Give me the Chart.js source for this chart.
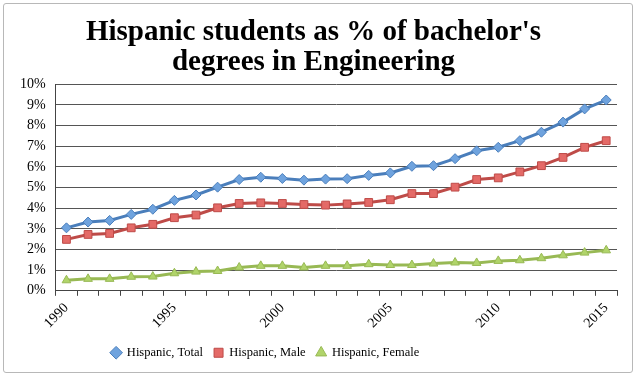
<!DOCTYPE html>
<html><head><meta charset="utf-8">
<script src="https://cdn.jsdelivr.net/npm/chart.js@4"></script>
<style>
html,body{margin:0;padding:0;background:#fff;}
#box{position:absolute;left:3px;top:3px;width:628px;height:368px;border:1px solid #b8b8b8;border-radius:3px;}
#wrap{position:absolute;left:0;top:0;width:628px;height:368px;}
</style></head><body>
<div id="box"><div id="wrap"><canvas id="c"></canvas></div></div>
<script>
const years = ['1990','1991','1992','1993','1994','1995','1996','1997','1998','1999','2000','2001','2002','2003','2004','2005','2006','2007','2008','2009','2010','2011','2012','2013','2014','2015'];
const hispanicTotal = [3.05,3.33,3.41,3.70,3.95,4.38,4.64,5.02,5.39,5.50,5.44,5.36,5.41,5.43,5.59,5.71,6.03,6.06,6.40,6.78,6.95,7.27,7.68,8.17,8.81,9.24];
const hispanicMale = [2.49,2.73,2.78,3.05,3.22,3.54,3.67,4.02,4.23,4.26,4.23,4.18,4.15,4.21,4.28,4.41,4.71,4.71,5.02,5.39,5.47,5.76,6.06,6.46,6.95,7.27];
const hispanicFemale = [0.51,0.58,0.58,0.68,0.69,0.85,0.93,0.96,1.13,1.21,1.21,1.13,1.21,1.21,1.29,1.25,1.25,1.32,1.37,1.35,1.45,1.48,1.58,1.72,1.85,1.96];
const labeledYears = ['1990','1995','2000','2005','2010','2015'];
const titleLines = ["Hispanic students as % of bachelor's", "degrees in Engineering"];

const serif = "'Liberation Serif', 'DejaVu Serif', serif";
const shiftLegend = {
  id: 'shiftLegend',
  afterLayout(chart) {
    const lg = chart.legend;
    if (lg) { lg.left -= 48; lg.right -= 48; }
  }
};

new Chart(document.getElementById('c'), {
  type: 'line',
  data: {
    labels: years,
    datasets: [
      {label: 'Hispanic, Total', data: hispanicTotal, borderColor: '#4A7EBB', backgroundColor: '#6FA3DE',
       pointBackgroundColor: '#6FA3DE', pointBorderColor: '#4A7EBB', pointBorderWidth: 1,
       pointStyle: 'rectRot', pointRadius: 5, borderWidth: 3, tension: 0},
      {label: 'Hispanic, Male', data: hispanicMale, borderColor: '#BE4B48', backgroundColor: '#E46A67',
       pointBackgroundColor: '#E46A67', pointBorderColor: '#BE4B48', pointBorderWidth: 1,
       pointStyle: 'rect', pointRadius: 5.5, borderWidth: 3, tension: 0},
      {label: 'Hispanic, Female', data: hispanicFemale, borderColor: '#98B954', backgroundColor: '#B0D46A',
       pointBackgroundColor: '#B0D46A', pointBorderColor: '#98B954', pointBorderWidth: 1,
       pointStyle: 'triangle', pointRadius: 5, borderWidth: 3, tension: 0}
    ]
  },
  options: {
    responsive: true,
    maintainAspectRatio: false,
    animation: false,
    layout: {padding: {left: 6, right: 15, top: 4, bottom: 3}},
    plugins: {
      title: {display: true, text: titleLines, color: '#000',
        font: {family: serif, size: 29, weight: 'bold', lineHeight: 1.04},
        padding: {top: 9, bottom: 7}},
      legend: {position: 'bottom',
        labels: {usePointStyle: true, boxWidth: 9, boxHeight: 9, padding: 11, color: '#000',
          font: {family: serif, size: 12.5}}},
      tooltip: {enabled: false}
    },
    scales: {
      x: {
        offset: true,
        grid: {offset: true, drawOnChartArea: false, drawTicks: true, tickLength: 5, color: '#444'},
        border: {display: true, color: '#444', width: 1},
        ticks: {autoSkip: false, minRotation: 45, maxRotation: 45, color: '#000', padding: 4,
          font: {family: serif, size: 14},
          callback: function(v, i) { const y = years[i]; return labeledYears.includes(y) ? y : ''; }}
      },
      y: {
        min: 0, max: 10,
        grid: {color: '#555', drawTicks: false, lineWidth: 1},
        border: {display: true, color: '#444'},
        ticks: {stepSize: 1, color: '#000', padding: 10, font: {family: serif, size: 14},
          callback: v => v + '%'}
      }
    }
  },
  plugins: [shiftLegend]
});
</script></body></html>
